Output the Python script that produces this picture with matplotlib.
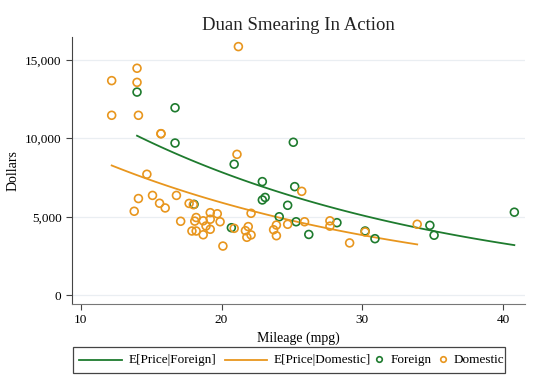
import numpy as np
import matplotlib.pyplot as plt
from matplotlib.lines import Line2D
from matplotlib.patches import Rectangle

# Data (mpg, price) for each group
dom_mpg = [14.0, 12.2, 14.0, 12.2, 14.1, 15.7, 15.7, 21.2, 21.1, 14.7, 14.1, 15.1, 15.6, 16.0,
           13.8, 16.8, 17.7, 17.1, 18.2, 18.1, 19.2, 19.7, 19.9, 18.7, 19.2, 18.9, 19.2, 17.9,
           18.2, 18.7, 20.1, 20.9, 22.1, 25.7, 21.7, 21.9, 21.8, 22.1, 23.7, 23.9, 23.9, 24.7,
           25.9, 27.7, 27.7, 29.1, 30.2, 33.9, 18.0]
dom_price = [14480, 13690, 13580, 11480, 11480, 10310, 10300, 15860, 8990, 7720, 6170, 6370,
             5870, 5570, 5360, 6370, 5860, 4720, 4960, 4730, 5270, 5200, 4690, 4750, 4850, 4420,
             4210, 4100, 4100, 3860, 3140, 4270, 5230, 6630, 4120, 4380, 3700, 3850, 4180, 4480,
             3800, 4530, 4690, 4750, 4410, 3340, 4040, 4530, 5780]

for_mpg = [14.0, 16.7, 16.7, 25.1, 20.9, 18.05, 20.7, 22.9, 25.2, 22.9, 23.1, 24.7, 24.1,
           25.3, 26.2, 28.2, 30.2, 30.9, 34.8, 35.1, 40.8]
for_price = [12960, 11960, 9710, 9760, 8360, 5800, 4310, 7250, 6930, 6080, 6240, 5740, 5010,
             4690, 3880, 4630, 4100, 3610, 4460, 3830, 5300]

labels = ["E[Price|Foreign]", "E[Price|Domestic]", "Foreign", "Domestic"]

green = "#1e7b2e"
orange = "#e8961e"

# log(price) = a + b*mpg + c*foreign, retransformed with Duan's smearing factor
x = np.concatenate([dom_mpg, for_mpg])
f = np.concatenate([np.zeros(len(dom_mpg)), np.ones(len(for_mpg))])
y = np.log(np.concatenate([dom_price, for_price]))
X = np.column_stack([np.ones_like(x), x, f])
coef, *_ = np.linalg.lstsq(X, y, rcond=None)
smear = np.mean(np.exp(y - X @ coef))

def expected(mpg, foreign):
    return smear * np.exp(coef[0] + coef[1] * mpg + coef[2] * foreign)

plt.rcParams["font.family"] = ["Liberation Serif", "DejaVu Serif"]

W, H = 540, 392
fig = plt.figure(figsize=(W / 100, H / 100), dpi=100)
ax = fig.add_axes([0.1333, 0.2245, 0.839, 0.681])

gf = np.linspace(min(for_mpg), max(for_mpg), 100)
gd = np.linspace(min(dom_mpg), max(dom_mpg), 100)
ax.plot(gf, expected(gf, 1), color=green, lw=1.3, zorder=3)
ax.plot(gd, expected(gd, 0), color=orange, lw=1.3, zorder=3)
ax.scatter(for_mpg, for_price, s=32, facecolors="none", edgecolors=green, linewidths=1.2, zorder=4)
ax.scatter(dom_mpg, dom_price, s=32, facecolors="none", edgecolors=orange, linewidths=1.2, zorder=4)

ax.set_xlim(9.38, 41.56)
ax.set_ylim(-555, 16470)
ax.set_xticks([10, 20, 30, 40])
ax.set_yticks([0, 5000, 10000, 15000])
ax.set_yticklabels(["0", "5,000", "10,000", "15,000"])
ax.tick_params(labelsize=9.5, length=4, color="#444444")
ax.yaxis.grid(True, color="#eaeef2", lw=0.9)
ax.set_axisbelow(True)
for s in ["top", "right"]:
    ax.spines[s].set_visible(False)
ax.spines["left"].set_color("#444444")
ax.spines["bottom"].set_color("#777777")

ax.set_title("Duan Smearing In Action", fontsize=13.5, color="#222222", pad=5)
ax.set_xlabel("Mileage (mpg)", fontsize=10)
ax.set_ylabel("Dollars", fontsize=10)

# legend drawn by hand so that marker keys stay short, like the original
def fx(px):
    return px / W

def fy(py):
    return 1 - py / H

tf = fig.transFigure
fig.patches.append(Rectangle((fx(73), fy(373)), fx(505) - fx(73), fy(347) - fy(373),
                             transform=tf, fill=False, ec="#444444", lw=0.9))
ly = 360
fig.lines.append(Line2D([fx(79), fx(122)], [fy(ly), fy(ly)], transform=tf, color=green, lw=1.3))
fig.lines.append(Line2D([fx(225), fx(267)], [fy(ly), fy(ly)], transform=tf, color=orange, lw=1.3))
fig.lines.append(Line2D([fx(379)], [fy(ly - 1)], transform=tf, marker="o", mfc="none",
                        mec=green, ms=4, mew=1.2))
fig.lines.append(Line2D([fx(443)], [fy(ly - 1)], transform=tf, marker="o", mfc="none",
                        mec=orange, ms=4, mew=1.2))
for px, lab in zip([129, 274, 391, 454], labels):
    fig.text(fx(px), fy(ly), lab, fontsize=9.5, ha="left", va="center")

fig.savefig("out.png", dpi=100)
